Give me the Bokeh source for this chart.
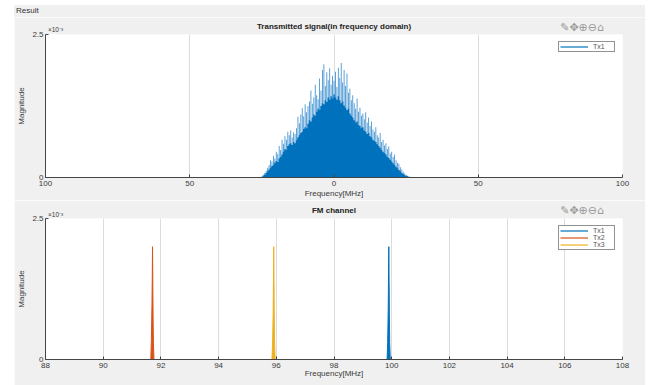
from bokeh.plotting import figure
from bokeh.layouts import column
from bokeh.models import Range1d, FixedTicker, LinearAxis, Div
from bokeh.embed import file_html
from bokeh.resources import INLINE

# ---------------- data ----------------
# Top: transmitted spectrum, magnitude in units of 1e-3, frequency in MHz
tx_freq = [-25.0, -24.5, -24.0, -23.5, -23.0, -22.5, -22.0, -21.5, -21.0, -20.5,
           -20.0, -19.5, -19.0, -18.5, -18.0, -17.5, -17.0, -16.5, -16.0, -15.5,
           -15.0, -14.5, -14.0, -13.5, -13.0, -12.5, -12.0, -11.5, -11.0, -10.5,
           -10.0, -9.5, -9.0, -8.5, -8.0, -7.5, -7.0, -6.5, -6.0, -5.5,
           -5.0, -4.5, -4.0, -3.5, -3.0, -2.5, -2.0, -1.5, -1.0, -0.5,
           0.0, 0.5, 1.0, 1.5, 2.0, 2.5, 3.0, 3.5, 4.0, 4.5,
           5.0, 5.5, 6.0, 6.5, 7.0, 7.5, 8.0, 8.5, 9.0, 9.5,
           10.0, 10.5, 11.0, 11.5, 12.0, 12.5, 13.0, 13.5, 14.0, 14.5,
           15.0, 15.5, 16.0, 16.5, 17.0, 17.5, 18.0, 18.5, 19.0, 19.5,
           20.0, 20.5, 21.0, 21.5, 22.0, 22.5, 23.0, 23.5, 24.0, 24.5,
           25.0, 25.5, 26.0]
tx_body = [0.01, 0.03, 0.05, 0.08, 0.11, 0.14, 0.17, 0.20, 0.22, 0.26,
           0.29, 0.27, 0.33, 0.36, 0.40, 0.45, 0.50, 0.48, 0.55, 0.58,
           0.60, 0.57, 0.62, 0.60, 0.65, 0.70, 0.74, 0.78, 0.80, 0.85,
           0.88, 0.86, 0.94, 1.00, 0.98, 1.05, 1.10, 1.08, 1.15, 1.20,
           1.18, 1.25, 1.30, 1.28, 1.35, 1.32, 1.40, 1.36, 1.42, 1.38,
           1.45, 1.40, 1.36, 1.42, 1.35, 1.30, 1.33, 1.26, 1.22, 1.18,
           1.20, 1.12, 1.08, 1.05, 1.00, 0.96, 0.98, 0.92, 0.90, 0.86,
           0.88, 0.82, 0.80, 0.76, 0.78, 0.72, 0.70, 0.66, 0.64, 0.62,
           0.58, 0.55, 0.52, 0.48, 0.45, 0.43, 0.40, 0.36, 0.34, 0.31,
           0.28, 0.25, 0.22, 0.19, 0.16, 0.13, 0.11, 0.08, 0.06, 0.04,
           0.03, 0.02, 0.01]
tx_peak = [0.02, 0.05, 0.08, 0.12, 0.17, 0.22, 0.30, 0.28, 0.38, 0.33,
           0.45, 0.41, 0.55, 0.48, 0.66, 0.59, 0.72, 0.66, 0.80, 0.74,
           0.82, 0.70, 0.79, 0.76, 0.86, 1.06, 0.95, 1.10, 1.21, 1.07,
           1.28, 1.14, 1.25, 1.33, 1.52, 1.29, 1.40, 1.62, 1.44, 1.37,
           1.73, 1.52, 1.88, 1.98, 1.60, 1.84, 1.70, 1.91, 1.62, 1.78,
           1.69, 1.85, 1.58, 1.92, 1.74, 2.00, 1.66, 1.88, 1.60, 1.82,
           1.48, 1.55, 1.35, 1.44, 1.30, 1.20, 1.38, 1.15, 1.22, 1.08,
           1.12, 1.02, 1.14, 0.96, 1.05, 0.90, 0.98, 0.84, 0.80, 0.88,
           0.74, 0.70, 0.78, 0.62, 0.66, 0.56, 0.60, 0.50, 0.54, 0.42,
           0.45, 0.36, 0.40, 0.30, 0.26, 0.24, 0.18, 0.14, 0.10, 0.07,
           0.05, 0.03, 0.02]
span_freq = [-100, 100]
top_ticks = [-100, -50, 0, 50, 100]
top_tick_labels = ["100", "50", "0", "50", "100"]

# Bottom: FM channel, carriers (MHz) and magnitudes (1e-3)
tx1_freq = [99.84, 99.86, 99.88, 99.89, 99.90, 99.91, 99.92, 99.93, 99.95]
tx1_mag = [0.00, 0.30, 0.90, 1.50, 2.00, 1.40, 0.80, 0.30, 0.00]
tx2_freq = [91.65, 91.67, 91.69, 91.70, 91.71, 91.72, 91.73, 91.74, 91.76]
tx2_mag = [0.00, 0.35, 0.95, 1.40, 2.00, 1.30, 0.70, 0.30, 0.00]
tx3_freq = [95.85, 95.87, 95.89, 95.90, 95.91, 95.92, 95.93, 95.94, 95.96]
tx3_mag = [0.00, 0.25, 0.80, 1.35, 2.00, 1.45, 0.75, 0.30, 0.00]
fm_span = [88, 108]
fm_ticks = [88, 90, 92, 94, 96, 98, 100, 102, 104, 106, 108]
y_ticks = [0, 2.5]

series_names = ["Tx1", "Tx2", "Tx3"]
colors = ["#0072BD", "#D95319", "#EDB120"]
titles = ["Transmitted signal(in frequency domain)", "FM channel"]
exponent_text = "×10⁻³"
panel_title = "Result"
toolbar_icons = "✎✥⊕⊖⌂"

FONT = "Liberation Sans"
AX = "#454545"
TXT = "#3A3A3A"


def style(p, xticks, labels=None):
    p.background_fill_color = "white"
    p.border_fill_color = "#F0F0F0"
    p.outline_line_color = None
    p.xaxis.ticker = FixedTicker(ticks=xticks)
    p.yaxis.ticker = FixedTicker(ticks=y_ticks)
    p.yaxis.major_label_overrides = {2.5: "2.5", 0: "0"}
    if labels:
        p.xaxis.major_label_overrides = {t: l for t, l in zip(xticks, labels)}
    p.xgrid.ticker = FixedTicker(ticks=xticks)
    p.xgrid.grid_line_color = "#DCDCDC"
    p.ygrid.visible = False
    for ax in (p.xaxis, p.yaxis):
        ax.axis_line_color = AX
        ax.major_tick_line_color = AX
        ax.major_tick_in = 3
        ax.major_tick_out = 0
        ax.minor_tick_line_color = None
        ax.major_label_text_font = FONT
        ax.major_label_text_font_size = "8px"
        ax.major_label_text_color = TXT
        ax.axis_label_text_font = FONT
        ax.axis_label_text_font_size = "8px"
        ax.axis_label_text_font_style = "normal"
        ax.axis_label_text_color = TXT
    p.xaxis.axis_label = "Frequency[MHz]"
    p.yaxis.axis_label = "Magnitude"
    p.xaxis.major_label_standoff = 3
    p.xaxis.axis_label_standoff = 0
    p.yaxis.major_label_standoff = 2
    p.yaxis.axis_label_standoff = 3


def text_axis(p, pos, text, size, color, standoff, bold=False, font=FONT):
    """An 'above' axis with no line/ticks, used only to place one text above the frame."""
    ax = LinearAxis(ticker=FixedTicker(ticks=[pos]), major_label_overrides={pos: text},
                    axis_line_color=None, major_tick_line_color=None, minor_tick_line_color=None,
                    major_tick_in=0, major_tick_out=0, minor_tick_in=0, minor_tick_out=0,
                    major_label_standoff=standoff, major_label_text_font=font,
                    major_label_text_font_size=size, major_label_text_color=color,
                    major_label_text_font_style="bold" if bold else "normal")
    p.add_layout(ax, "above")


def style_legend(p):
    lg = p.legend[0]
    lg.location = "top_right"
    lg.margin = 7
    lg.padding = 1
    lg.spacing = 0
    lg.border_line_color = "#262626"
    lg.border_line_width = 1
    lg.background_fill_color = "white"
    lg.background_fill_alpha = 1
    lg.label_text_font = FONT
    lg.label_text_font_size = "7px"
    lg.label_text_color = "#555555"
    lg.label_height = 7
    lg.glyph_height = 7
    lg.glyph_width = 28
    lg.label_standoff = 5


# ---------------- panel header ----------------
header = Div(text=f'<span style="margin-left:2px">{panel_title}</span>', width=631, height=12,
             margin=(5, 13, 0, 14),
             styles={"background-color": "#F0F0F0", "font-family": FONT, "font-size": "8px",
                     "color": "#333333", "line-height": "12px"})

# ---------------- top figure ----------------
p1 = figure(width=631, height=183, x_range=Range1d(-100, 100), y_range=Range1d(0, 2.5),
            output_backend="svg", toolbar_location=None,
            min_border_left=30, min_border_right=23, min_border_top=15, min_border_bottom=23,
            margin=(0, 13, 0, 14))
style(p1, top_ticks, top_tick_labels)
p1.vbar(x=tx_freq, top=tx_peak, width=0.3, bottom=0, color="#4393D2", line_width=0)
p1.varea_step(x=tx_freq, y1=[0] * len(tx_freq), y2=tx_body, step_mode="center", fill_color="#0072BD")
p1.line(x=span_freq, y=[0, 0], color="#0072BD", line_width=1.2, legend_label="Tx1")
style_legend(p1)
text_axis(p1, -96.54, exponent_text, "6.5px", TXT, 2)
text_axis(p1, 0, titles[0], "8px", "#222222", -8, bold=True)
text_axis(p1, 86.0, toolbar_icons, "11px", "#9A9A9A", -15, font="DejaVu Sans")

# ---------------- bottom figure ----------------
p2 = figure(width=631, height=185, x_range=Range1d(88, 108), y_range=Range1d(0, 2.5),
            output_backend="svg", toolbar_location=None,
            min_border_left=30, min_border_right=23, min_border_top=14, min_border_bottom=26,
            margin=(0, 13, 0, 14))
style(p2, fm_ticks)
p2.xaxis.axis_label_standoff = -2
for fr, mg, c, n in zip([tx1_freq, tx2_freq, tx3_freq], [tx1_mag, tx2_mag, tx3_mag], colors, series_names):
    p2.patch(x=fr, y=mg, fill_color=c, line_color=c, line_width=1)
    p2.line(x=fm_span, y=[0, 0], color=c, line_width=1.2, legend_label=n)
style_legend(p2)
text_axis(p2, 88.35, exponent_text, "6.5px", TXT, 1)
text_axis(p2, 98, titles[1], "8px", "#222222", -7, bold=True)
text_axis(p2, 106.6, toolbar_icons, "11px", "#9A9A9A", -14, font="DejaVu Sans")

layout = column(header, p1, p2, spacing=0)
open("out.html", "w").write(file_html(layout, INLINE))
